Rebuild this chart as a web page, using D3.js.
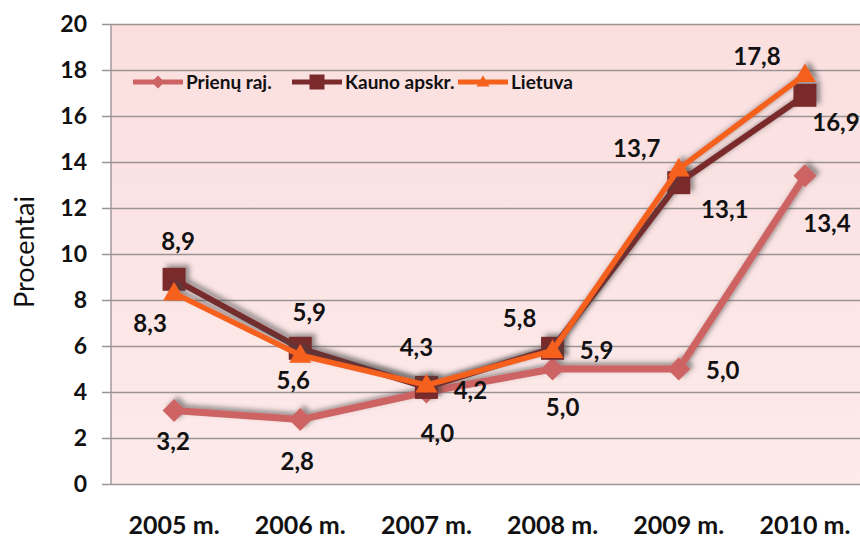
<!DOCTYPE html>
<html>
<head>
<meta charset="utf-8">
<script src="https://cdn.jsdelivr.net/npm/d3@7"></script>
<style>
  body { margin: 0; background: #fff; }
  text { font-family: Lato, "Open Sans", sans-serif; fill: #111; }
</style>
</head>
<body>
<div id="chart"></div>
<script>
// data
const years = ["2005 m.", "2006 m.", "2007 m.", "2008 m.", "2009 m.", "2010 m."];
const prienai = [3.2, 2.8, 4.0, 5.0, 5.0, 13.4];
const kaunas = [8.9, 5.9, 4.2, 5.9, 13.1, 16.9];
const lietuva = [8.3, 5.6, 4.3, 5.8, 13.7, 17.8];
const yTicks = [0, 2, 4, 6, 8, 10, 12, 14, 16, 18, 20];
const seriesNames = ["Prienų raj.", "Kauno apskr.", "Lietuva"];

const width = 860, height = 542;
const plot = {left: 111, top: 24, right: 868, bottom: 484};

// label placement (dx, dy from the point), as in the original
const offsets = [
  [[-1, 31], [-3, 42], [11, 41], [10, 38], [44, 1], [22, 48]],
  [[4, -38], [9, -36], [44, 3], [44, 2], [46, 27], [31, 27]],
  [[-24, 30], [-7, 25], [-10, -38], [-33, -32], [-42, -21], [-48, -18]]
];

const series = [
  {name: seriesNames[0], values: prienai, color: "#cd6464", width: 7, marker: "diamond"},
  {name: seriesNames[1], values: kaunas, color: "#7a2a2a", width: 6, marker: "square"},
  {name: seriesNames[2], values: lietuva, color: "#f5601c", width: 5.5, marker: "triangle"}
];

let svg = d3.select("#chart").append("svg")
    .attr("width", width)
    .attr("height", height);

let defs = svg.append("defs");
let grad = defs.append("linearGradient").attr("id", "bg")
    .attr("x1", 0).attr("y1", 0).attr("x2", 0).attr("y2", 1);
grad.append("stop").attr("offset", "0%").attr("stop-color", "#fbdfdf");
grad.append("stop").attr("offset", "100%").attr("stop-color", "#fdeaea");

let shadow = defs.append("filter").attr("id", "shadow")
    .attr("x", "-20%").attr("y", "-20%").attr("width", "140%").attr("height", "140%");
shadow.append("feDropShadow")
    .attr("dx", 4).attr("dy", -3)
    .attr("stdDeviation", 2.5)
    .attr("flood-color", "#444")
    .attr("flood-opacity", 0.55);

let x = d3.scaleBand()
    .domain(years)
    .range([plot.left, plot.right]);

let y = d3.scaleLinear()
    .domain([0, 20])
    .range([plot.bottom, plot.top]);

svg.append("rect")
    .attr("x", plot.left)
    .attr("y", plot.top)
    .attr("width", plot.right - plot.left)
    .attr("height", plot.bottom - plot.top)
    .attr("fill", "url(#bg)");

// grid + y axis
let yAxis = svg.append("g")
    .attr("transform", `translate(${plot.left}, 0)`)
    .call(d3.axisLeft(y)
        .tickValues(yTicks)
        .tickSize(-(plot.right - plot.left))
        .tickPadding(24));

yAxis.select(".domain").remove();
yAxis.selectAll(".tick line")
    .attr("x1", -9)
    .attr("stroke", "#9c9494")
    .attr("stroke-width", 1.4);
yAxis.selectAll(".tick text")
    .style("font-family", "Lato, sans-serif")
    .style("font-size", "23px")
    .style("font-weight", "bold")
    .attr("fill", "#111");

svg.append("line")
    .attr("x1", plot.left).attr("x2", plot.left)
    .attr("y1", plot.top).attr("y2", plot.bottom)
    .attr("stroke", "#9c9494")
    .attr("stroke-width", 1.4);

// x axis labels
let xAxis = svg.append("g")
    .attr("transform", `translate(0, ${plot.bottom})`)
    .call(d3.axisBottom(x).tickSize(0).tickPadding(32));
xAxis.select(".domain").remove();
xAxis.selectAll(".tick text")
    .style("font-family", "Lato, sans-serif")
    .style("font-size", "25px")
    .style("font-weight", "bold")
    .attr("fill", "#111");

svg.append("text")
    .attr("transform", `translate(${25}, ${252}) rotate(-90)`)
    .attr("dy", "0.35em")
    .style("text-anchor", "middle")
    .style("font-size", "27px")
    .text("Procentai");

function markerPath(type, s) {
  if (type == "diamond") {
    return `M0,${-s / 2}L${s / 2},0L0,${s / 2}L${-s / 2},0Z`;
  } else if (type == "square") {
    return `M${-s / 2},${-s / 2}h${s}v${s}h${-s}Z`;
  } else {
    let h = s * 0.85;
    return `M0,${-h * 0.6}L${s / 2},${h * 0.4}L${-s / 2},${h * 0.4}Z`;
  }
}
const markerSize = {diamond: 23, square: 23, triangle: 22};

let line = d3.line()
    .x(function(d, i) { return x(years[i]) + x.bandwidth() / 2; })
    .y(function(d) { return y(d); });

series.forEach(function(s) {
  let g = svg.append("g").attr("filter", "url(#shadow)");
  g.append("path")
      .datum(s.values)
      .attr("d", line)
      .attr("fill", "none")
      .attr("stroke", s.color)
      .attr("stroke-width", s.width)
      .attr("stroke-linejoin", "round");
  g.selectAll("path.marker")
      .data(s.values)
      .enter()
      .append("path")
      .attr("class", "marker")
      .attr("transform", function(d, i) { return `translate(${x(years[i]) + x.bandwidth() / 2}, ${y(d)})`; })
      .attr("d", markerPath(s.marker, markerSize[s.marker]))
      .attr("fill", s.color);
});

// data labels
series.forEach(function(s, k) {
  svg.append("g").selectAll("text")
      .data(s.values)
      .enter()
      .append("text")
      .attr("x", function(d, i) { return x(years[i]) + x.bandwidth() / 2 + offsets[k][i][0]; })
      .attr("y", function(d, i) { return y(d) + offsets[k][i][1]; })
      .attr("dy", "0.36em")
      .style("text-anchor", "middle")
      .style("font-size", "24px")
      .style("font-weight", "bold")
      .text(function(d) { return d.toFixed(1).replace(".", ","); });
});

// legend
let legendX = [133, 292, 458];
let legend = svg.append("g");
series.forEach(function(s, k) {
  let lg = legend.append("g").attr("transform", `translate(${legendX[k]}, 82)`);
  lg.append("line")
      .attr("x1", 0).attr("x2", 50)
      .attr("stroke", s.color)
      .attr("stroke-width", 5);
  lg.append("path")
      .attr("transform", "translate(25, 0)")
      .attr("d", markerPath(s.marker, s.marker == "square" ? 15 : 13))
      .attr("fill", s.color);
  lg.append("text")
      .attr("x", 53)
      .attr("dy", "0.35em")
      .style("font-size", "19px")
      .style("font-weight", "bold")
      .text(s.name);
});
</script>
</body>
</html>
